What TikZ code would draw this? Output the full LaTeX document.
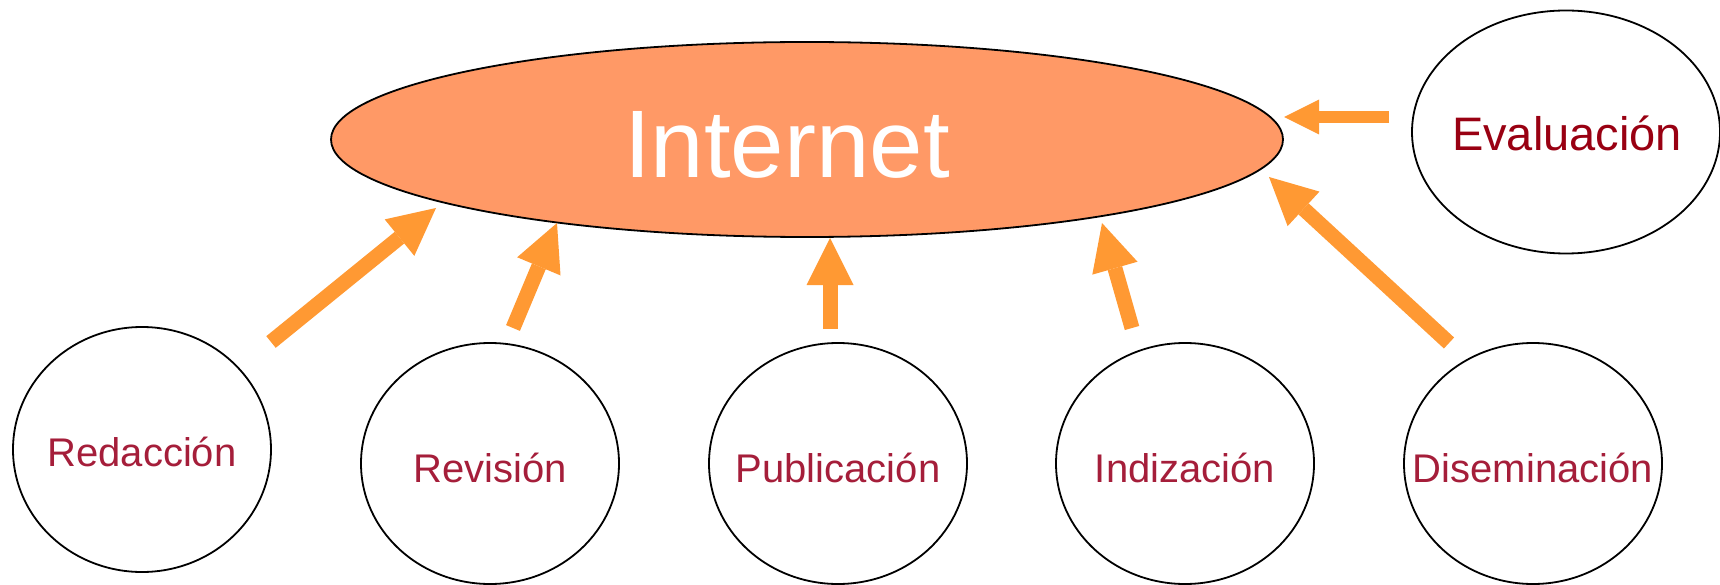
\documentclass[tikz,border=0pt]{standalone}
\usepackage{fontspec}
\setmainfont{Liberation Sans}
\usetikzlibrary{shapes.geometric,arrows.meta}
\definecolor{netfill}{RGB}{255,153,102}
\definecolor{arrowc}{RGB}{255,153,51}
\definecolor{labc}{RGB}{165,30,58}
\definecolor{evalc}{RGB}{153,0,18}
\begin{document}
\begin{tikzpicture}[x=1pt,y=-1pt,
  oval/.style={ellipse, draw=black, line width=1.8pt, inner sep=0pt, fill=white},
  lab/.style={anchor=base, text=labc, font=\fontsize{40}{48}\selectfont, inner sep=0pt},
  bigarrow/.style={draw=arrowc, line width=15pt, -{Triangle[length=47pt,width=47pt,line width=0pt]}},
  smallarrow/.style={draw=arrowc, line width=12pt, -{Triangle[length=35pt,width=35pt,line width=0pt]}}]
\useasboundingbox (0,0) rectangle (1720,585);
% central ellipse
\node[oval, fill=netfill, minimum width=952pt, minimum height=195pt] (internet) at (807,139.5) {};
\node[anchor=base, text=white, font=\fontsize{96}{110}\selectfont, inner sep=0pt] (internetlab) at (787,178) {Internet};
% evaluation
\node[oval, minimum width=308pt, minimum height=243pt] (evaluacion) at (1566,132) {};
\node[lab, text=evalc, font=\fontsize{47}{56}\selectfont] (evaluacionlab) at (1567,151) {Evaluación};
% bottom row
\node[oval, minimum width=258pt, minimum height=245pt] (redaccion) at (142,449.5) {};
\node[lab] (redaccionlab) at (142,466) {Redacción};
\node[oval, minimum width=258pt, minimum height=241pt] (revision) at (490,463.5) {};
\node[lab] (revisionlab) at (490,482) {Revisión};
\node[oval, minimum width=258pt, minimum height=241pt] (publicacion) at (838,463.5) {};
\node[lab] (publicacionlab) at (838,482) {Publicación};
\node[oval, minimum width=258pt, minimum height=241pt] (indizacion) at (1185,463.5) {};
\node[lab] (indizacionlab) at (1185,482) {Indización};
\node[oval, minimum width=258pt, minimum height=241pt] (diseminacion) at (1533,463.5) {};
\node[lab] (diseminacionlab) at (1533,482) {Diseminación};
% arrow end points
\coordinate (a1s) at (271,342);  \coordinate (a1e) at (436,208);
\coordinate (a2s) at (513,328);  \coordinate (a2e) at (557,223);
\coordinate (a3s) at (830,329);  \coordinate (a3e) at (830,238);
\coordinate (a4s) at (1132,328); \coordinate (a4e) at (1102,223);
\coordinate (a5s) at (1449,343); \coordinate (a5e) at (1269,177);
\coordinate (a6s) at (1389,117); \coordinate (a6e) at (1284,117);
\draw[bigarrow] (a1s) -- (a1e);
\draw[bigarrow] (a2s) -- (a2e);
\draw[bigarrow] (a3s) -- (a3e);
\draw[bigarrow] (a4s) -- (a4e);
\draw[bigarrow] (a5s) -- (a5e);
\draw[smallarrow] (a6s) -- (a6e);
\end{tikzpicture}
\end{document}
